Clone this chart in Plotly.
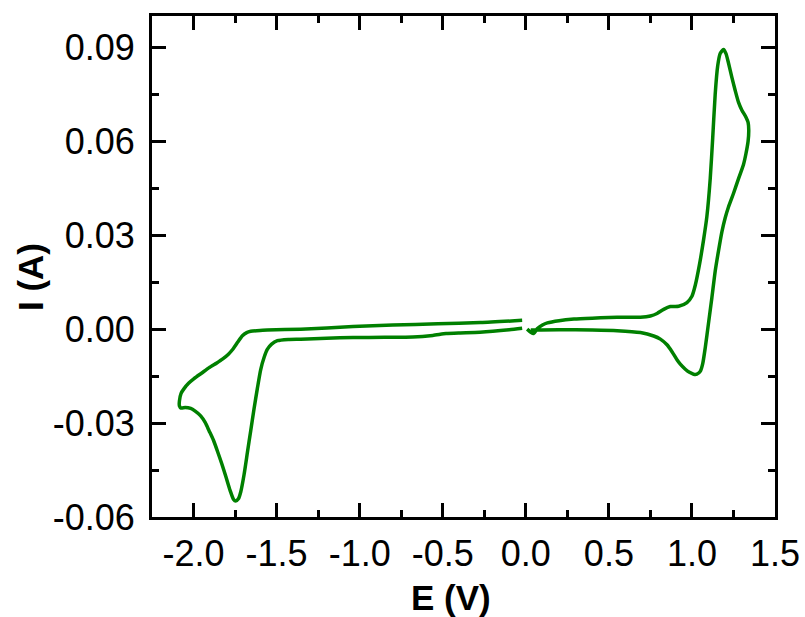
import plotly.graph_objects as go

# Cyclic voltammogram: anodic region (0 V -> +1.34 V -> 0 V)
E_anodic = [0.008, 0.030, 0.047, 0.07, 0.10, 0.13, 0.20, 0.29, 0.40, 0.50, 0.60, 0.69,
            0.75, 0.79, 0.83, 0.87, 0.92, 0.97, 1.00, 1.02, 1.045, 1.07, 1.09, 1.11,
            1.125, 1.14, 1.155, 1.17, 1.19, 1.205, 1.22, 1.24, 1.26, 1.28, 1.30, 1.326,
            1.338, 1.342, 1.338, 1.325, 1.31, 1.28, 1.25, 1.22, 1.20, 1.18, 1.16, 1.14,
            1.12, 1.10, 1.08, 1.065, 1.05, 1.03, 1.01, 0.985, 0.96, 0.93, 0.91, 0.88,
            0.85, 0.81, 0.77, 0.69, 0.55, 0.40, 0.20, 0.03]
I_anodic = [0.0000, -0.0010, -0.0014, 0.0002, 0.0013, 0.0020, 0.0027, 0.0032, 0.0035,
            0.0037, 0.0038, 0.0038, 0.0042, 0.0050, 0.0063, 0.0072, 0.0073, 0.0085,
            0.0105, 0.0140, 0.0205, 0.0285, 0.0360, 0.0480, 0.0610, 0.0750, 0.0840,
            0.0880, 0.0893, 0.0880, 0.0850, 0.0805, 0.0763, 0.0725, 0.0700, 0.0676,
            0.0660, 0.0635, 0.0600, 0.0560, 0.0525, 0.0480, 0.0433, 0.0390, 0.0355,
            0.0310, 0.0250, 0.0185, 0.0100, 0.0020, -0.0060, -0.0110, -0.0135, -0.0144,
            -0.0144, -0.0138, -0.0128, -0.0112, -0.0098, -0.0072, -0.0050, -0.0032,
            -0.0022, -0.0011, -0.0005, -0.0003, -0.0002, -0.0003]

# Cathodic region (0 V -> -2.085 V -> 0 V)
E_cathodic = [-0.022, -0.10, -0.276, -0.40, -0.48, -0.56, -0.68, -0.85, -1.04, -1.20,
              -1.355, -1.43, -1.495, -1.53, -1.556, -1.575, -1.596, -1.616, -1.636,
              -1.656, -1.676, -1.696, -1.716, -1.73, -1.746, -1.76, -1.78, -1.806,
              -1.83, -1.856, -1.88, -1.906, -1.93, -1.957, -1.99, -2.017, -2.05,
              -2.075, -2.085, -2.085, -2.075, -2.057, -2.03, -1.997, -1.95, -1.906,
              -1.86, -1.826, -1.79, -1.766, -1.735, -1.706, -1.68, -1.656, -1.60,
              -1.556, -1.355, -1.04, -0.80, -0.53, -0.273, -0.022]
I_cathodic = [0.0003, -0.0002, -0.0010, -0.0012, -0.0014, -0.0020, -0.0025, -0.0026,
              -0.0027, -0.0029, -0.0032, -0.0033, -0.0037, -0.0048, -0.0065, -0.0090,
              -0.0130, -0.0190, -0.0255, -0.0325, -0.0395, -0.0465, -0.0520, -0.0542,
              -0.0549, -0.0543, -0.0515, -0.0470, -0.0430, -0.0390, -0.0355, -0.0325,
              -0.0298, -0.0277, -0.0262, -0.0253, -0.0250, -0.0252, -0.0245, -0.0230,
              -0.0205, -0.0190, -0.0173, -0.0158, -0.0140, -0.0123, -0.0108, -0.0096,
              -0.0080, -0.0066, -0.0042, -0.0021, -0.0011, -0.0007, -0.0004, -0.0003,
              0.0000, 0.0008, 0.0013, 0.0017, 0.0021, 0.0028]

x_tickvals = [-2.0, -1.5, -1.0, -0.5, 0.0, 0.5, 1.0, 1.5]
x_ticktext = ["-2.0", "-1.5", "-1.0", "-0.5", "0.0", "0.5", "1.0", "1.5"]
y_tickvals = [-0.06, -0.03, 0.00, 0.03, 0.06, 0.09]
y_ticktext = ["-0.06", "-0.03", "0.00", "0.03", "0.06", "0.09"]

E_all = E_anodic + [None] + E_cathodic
I_all = I_anodic + [None] + I_cathodic

font_family = "Arial, Liberation Sans, sans-serif"

fig = go.Figure()
fig.add_trace(go.Scatter(
    x=E_all, y=I_all, mode="lines",
    line=dict(color="#008000", width=3.5, shape="spline", smoothing=0.6),
    connectgaps=False, showlegend=False,
))

axis_common = dict(
    showline=True, linewidth=3, linecolor="black", mirror="allticks",
    ticks="inside", ticklen=14, tickwidth=3, tickcolor="black",
    showgrid=False, zeroline=False, automargin=False,
    tickfont=dict(family=font_family, size=36, color="black"),
)

fig.update_xaxes(
    range=[-2.25, 1.5], tickmode="array",
    tickvals=x_tickvals, ticktext=x_ticktext,
    minor=dict(ticks="inside", ticklen=7, tickwidth=3, tickcolor="black", dtick=0.25,
               tick0=0, showgrid=False),
    ticklabelstandoff=3,
    **axis_common,
)
fig.update_yaxes(
    range=[-0.06, 0.1], tickmode="array",
    tickvals=y_tickvals, ticktext=y_ticktext,
    minor=dict(ticks="inside", ticklen=7, tickwidth=3, tickcolor="black", dtick=0.015,
               tick0=0, showgrid=False),
    ticklabelstandoff=7,
    **axis_common,
)

fig.add_annotation(
    text="<b>E (V)</b>", xref="paper", yref="paper", x=0.48, y=-0.16,
    xanchor="center", yanchor="middle", showarrow=False,
    font=dict(family=font_family, size=35, color="black"),
)
fig.add_annotation(
    text="<b>I (A)</b>", xref="paper", yref="paper", x=-0.195, y=0.478,
    xanchor="center", yanchor="middle", showarrow=False, textangle=-90,
    font=dict(family=font_family, size=35, color="black"),
)

fig.update_layout(
    width=805, height=617,
    margin=dict(l=152, r=30, t=16, b=100),
    paper_bgcolor="white", plot_bgcolor="white",
)

fig.write_html("out.html")
